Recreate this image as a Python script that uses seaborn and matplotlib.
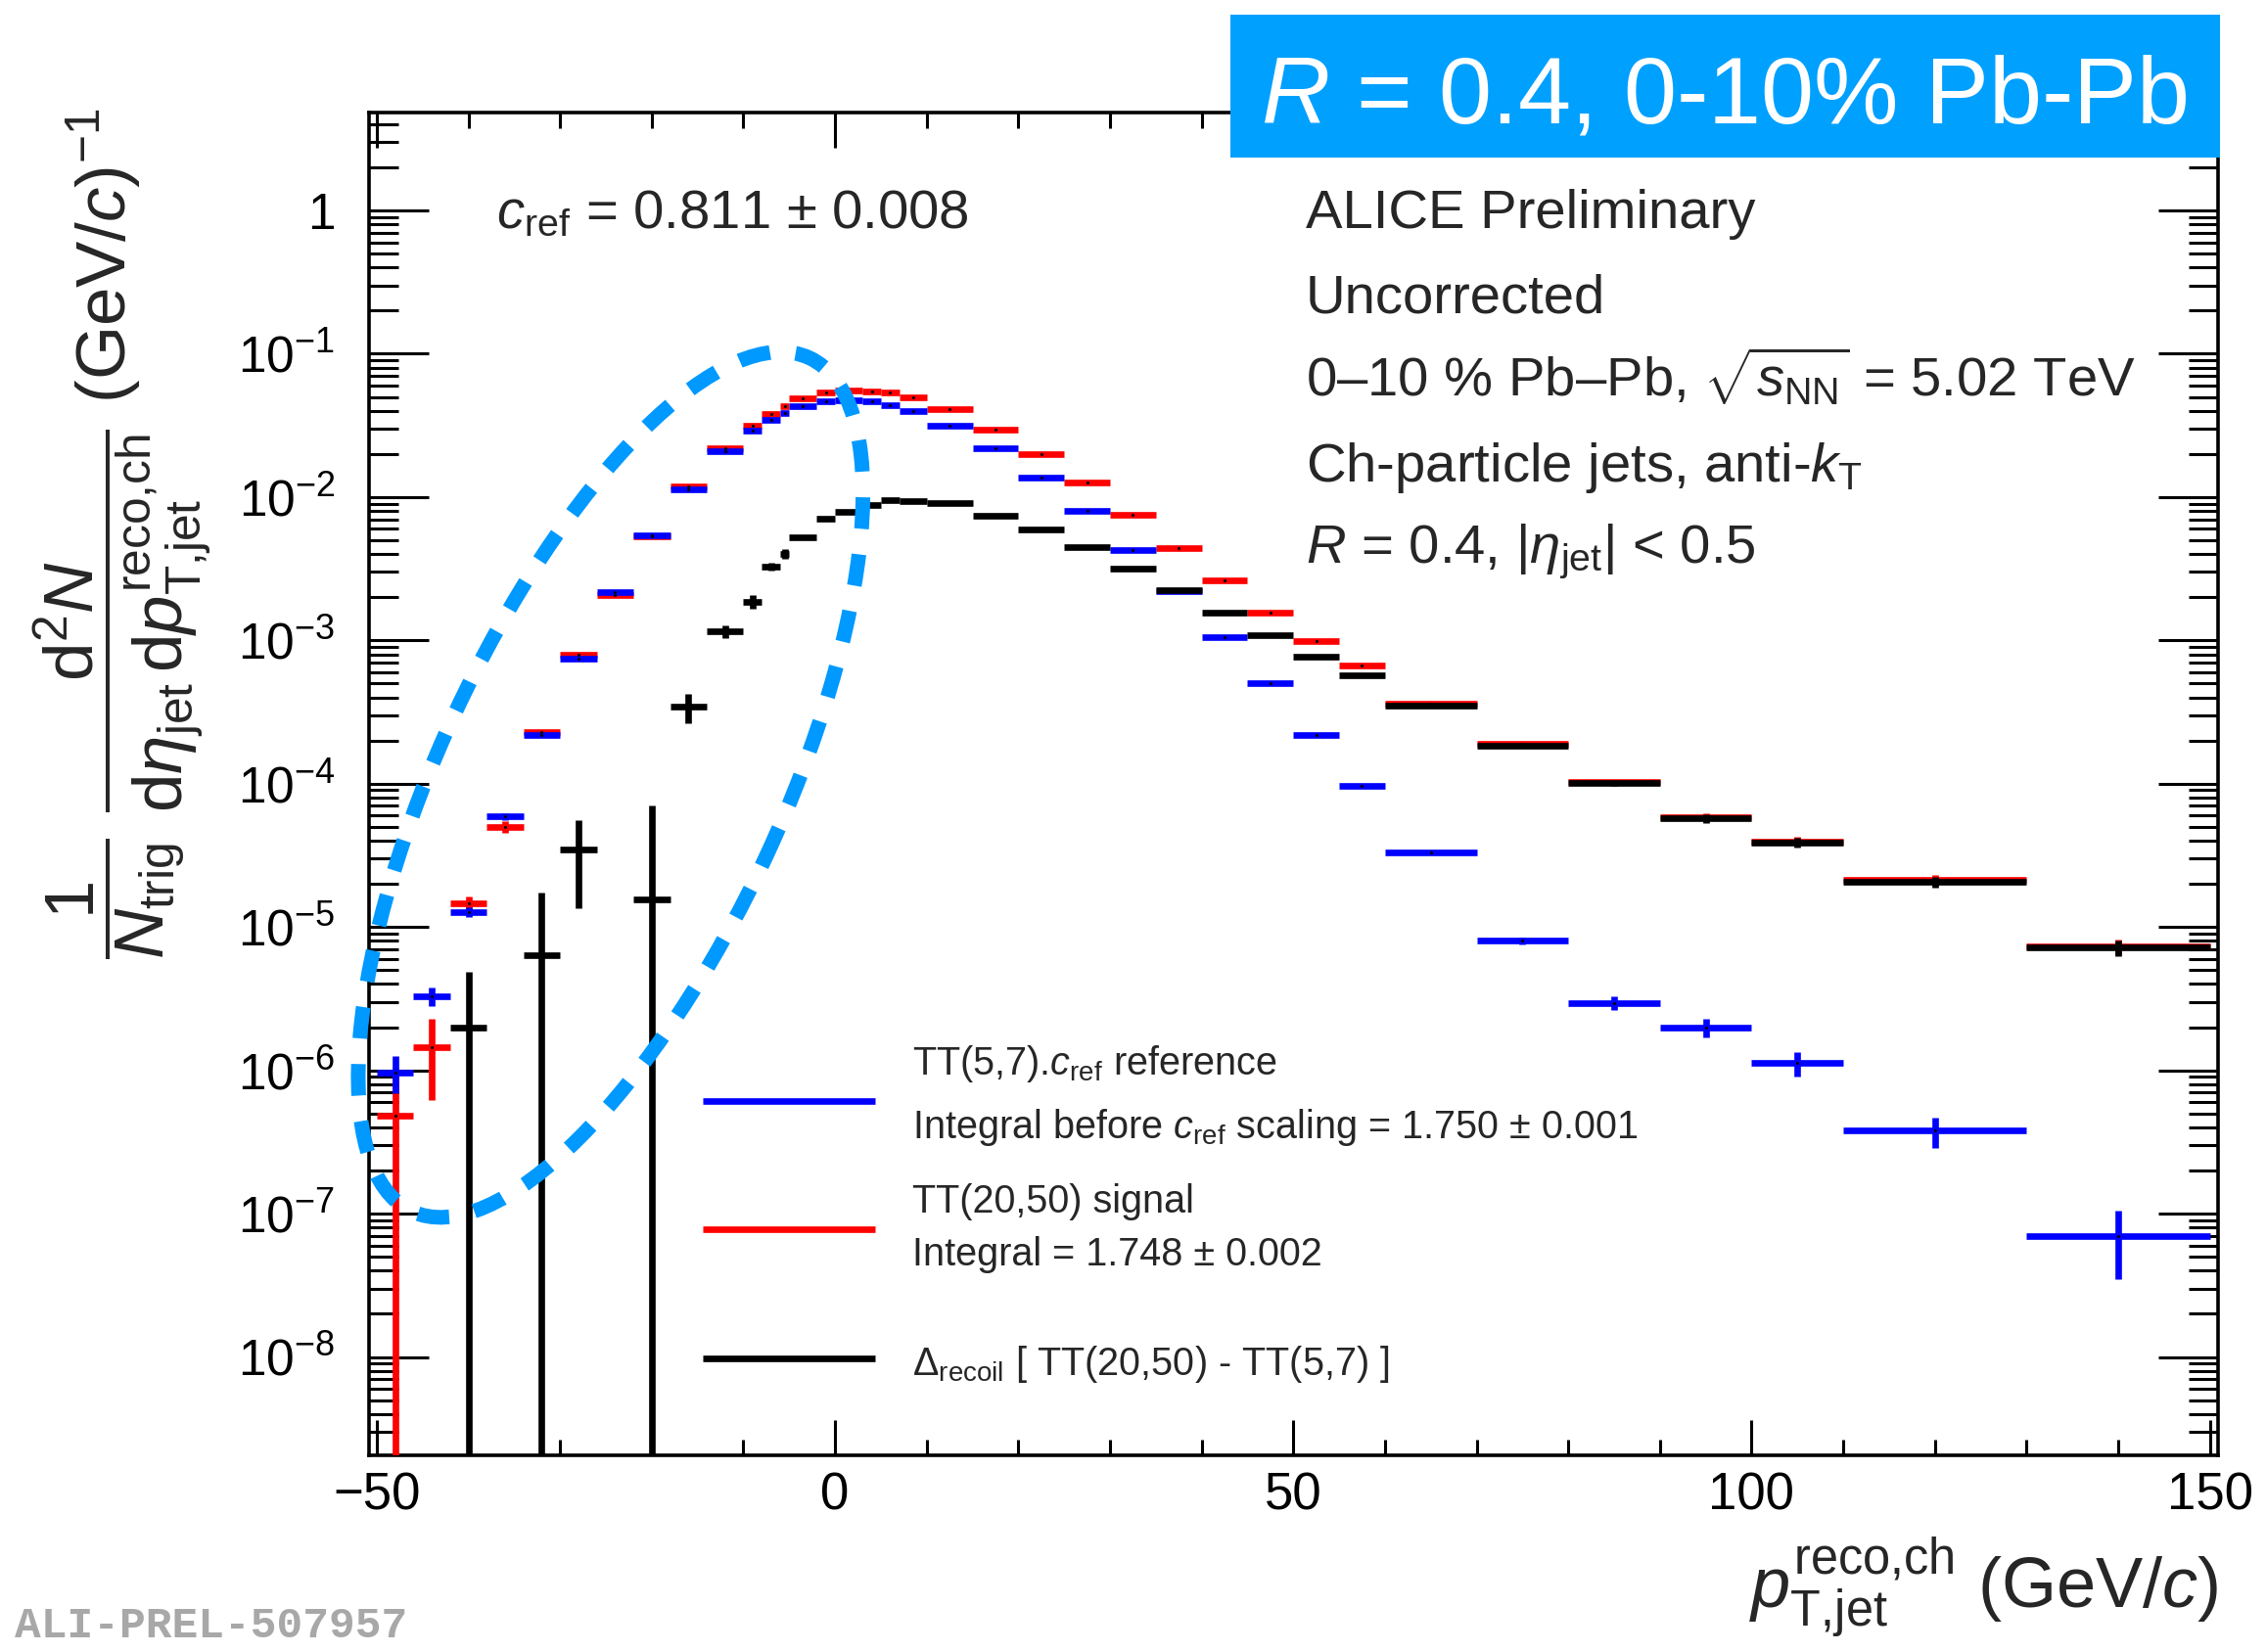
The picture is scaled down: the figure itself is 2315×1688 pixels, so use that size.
import numpy as np
import pandas as pd
import matplotlib
matplotlib.use("Agg")
import matplotlib.pyplot as plt
import seaborn as sns
from matplotlib.patches import Ellipse, Rectangle
from matplotlib.lines import Line2D
from matplotlib.ticker import (FixedLocator, MultipleLocator, FuncFormatter,
                               NullFormatter)

# ---------------- data ----------------
bin_edges = [-50, -46, -42, -38, -34, -30, -26, -22, -18, -14, -10, -8, -6, -5, -2,
             0, 3, 5, 7, 10, 15, 20, 25, 30, 35, 40, 45, 50, 55, 60, 70, 80, 90,
             100, 110, 130, 150]

# TT(5,7) x c_ref reference (blue)
ref_vals = [9.7e-7, 3.3e-6, 1.27e-5, 5.9e-5, 2.2e-4, 7.5e-4, 2.16e-3, 5.4e-3,
            1.13e-2, 2.10e-2, 2.92e-2, 3.47e-2, 3.85e-2, 4.28e-2, 4.68e-2, 4.75e-2,
            4.68e-2, 4.35e-2, 3.99e-2, 3.17e-2, 2.20e-2, 1.37e-2, 7.98e-3, 4.28e-3,
            2.19e-3, 1.06e-3, 5.0e-4, 2.19e-4, 9.7e-5, 3.29e-5, 8.0e-6, 2.95e-6,
            2.0e-6, 1.12e-6, 3.79e-7, 6.99e-8]
ref_errs = [2.8e-7, 5.0e-7, 1.0e-6, 3.0e-6, 6.0e-6, 1.2e-5, 2.5e-5, 5.0e-5,
            8.0e-5, 1.2e-4, 1.6e-4, 2.0e-4, 3.0e-4, 2.0e-4, 2.0e-4, 2.0e-4,
            2.0e-4, 2.0e-4, 2.0e-4, 1.5e-4, 1.2e-4, 9.0e-5, 6.0e-5, 4.0e-5,
            2.5e-5, 1.5e-5, 8.0e-6, 4.0e-6, 2.0e-6, 8.0e-7, 4.5e-7, 3.3e-7,
            3.0e-7, 2.2e-7, 9.0e-8, 3.5e-8]

# TT(20,50) signal (red)
sig_vals = [4.8e-7, 1.46e-6, 1.47e-5, 5.0e-5, 2.28e-4, 7.9e-4, 2.08e-3, 5.3e-3,
            1.18e-2, 2.20e-2, 3.17e-2, 3.81e-2, 4.28e-2, 4.85e-2, 5.36e-2, 5.58e-2,
            5.47e-2, 5.38e-2, 4.93e-2, 4.12e-2, 2.96e-2, 1.98e-2, 1.26e-2, 7.47e-3,
            4.43e-3, 2.63e-3, 1.57e-3, 9.9e-4, 6.73e-4, 3.6e-4, 1.9e-4, 1.03e-4,
            5.85e-5, 3.97e-5, 2.12e-5, 7.3e-6]
sig_errs = [5.5e-7, 8.4e-7, 1.6e-6, 4.5e-6, 8.0e-6, 1.6e-5, 3.0e-5, 6.0e-5,
            1.2e-4, 2.0e-4, 3.0e-4, 4.0e-4, 5.0e-4, 4.0e-4, 5.0e-4, 5.0e-4,
            5.0e-4, 5.0e-4, 5.0e-4, 4.0e-4, 3.0e-4, 2.0e-4, 1.3e-4, 8.0e-5,
            5.0e-5, 3.0e-5, 2.0e-5, 1.3e-5, 1.0e-5, 6.0e-6, 4.0e-6, 3.0e-6,
            4.0e-6, 3.1e-6, 1.8e-6, 9.0e-7]

# Delta_recoil = TT(20,50) - TT(5,7) (black); nan = not drawn
drec_vals = [np.nan, np.nan, 2.0e-6, np.nan, 6.4e-6, 3.46e-5, np.nan, 1.57e-5,
             3.46e-4, 1.15e-3, 1.87e-3, 3.27e-3, 4.0e-3, 5.28e-3, 7.1e-3, 7.9e-3,
             8.77e-3, 9.55e-3, 9.35e-3, 9.05e-3, 7.46e-3, 5.96e-3, 4.51e-3, 3.18e-3,
             2.25e-3, 1.57e-3, 1.08e-3, 7.64e-4, 5.73e-4, 3.48e-4, 1.84e-4, 1.01e-4,
             5.73e-5, 3.89e-5, 2.07e-5, 7.2e-6]
drec_errs = [np.nan, np.nan, 2.9e-6, np.nan, 1.1e-5, 2.1e-5, np.nan, 5.5e-5,
             8.0e-5, 1.15e-4, 2.0e-4, 2.0e-4, 3.2e-4, 1.6e-4, 2.0e-4, 2.0e-4,
             2.0e-4, 2.0e-4, 2.0e-4, 1.8e-4, 1.5e-4, 1.2e-4, 9.0e-5, 7.0e-5,
             5.0e-5, 3.5e-5, 2.5e-5, 1.8e-5, 1.3e-5, 8.0e-6, 5.0e-6, 4.0e-6,
             4.0e-6, 3.1e-6, 1.8e-6, 9.0e-7]

x_major_ticks = [-50, 0, 50, 100, 150]
y_major_exponents = [-8, -7, -6, -5, -4, -3, -2, -1, 0]

legend_lines = [
    (r"TT(5,7).$c_{\rm ref}$ reference",
     r"Integral before $c_{\rm ref}$ scaling = 1.750 ± 0.001"),
    ("TT(20,50) signal", "Integral = 1.748 ± 0.002"),
    (r"$\Delta_{\rm recoil}$ [ TT(20,50) - TT(5,7) ]",),
]
info_lines = ["ALICE Preliminary", "Uncorrected",
              r"0–10 % Pb–Pb, $\sqrt{s_{\rm NN}}$ = 5.02 TeV",
              r"Ch-particle jets, anti-$k_{\rm T}$",
              r"$R$ = 0.4, |$\eta_{\rm jet}$| < 0.5"]

# ---------------- style ----------------
sns.set_theme(style="ticks")
plt.rcParams["font.family"] = ["Liberation Sans", "DejaVu Sans"]
plt.rcParams["mathtext.fontset"] = "custom"
plt.rcParams["mathtext.rm"] = "Liberation Sans"
plt.rcParams["mathtext.it"] = "Liberation Sans:italic"
plt.rcParams["mathtext.bf"] = "Liberation Sans:bold"
plt.rcParams["axes.unicode_minus"] = True

W, H = 2315, 1688
fig = plt.figure(figsize=(W / 100, H / 100), dpi=100)
fig.patch.set_facecolor("white")
ax_l, ax_r, ax_t, ax_b = 377, 2266, 115, 1487
ax = fig.add_axes([ax_l / W, 1 - ax_b / H, (ax_r - ax_l) / W, (ax_b - ax_t) / H])
ax.set_facecolor("white")

edges = np.array(bin_edges, dtype=float)
centers = 0.5 * (edges[:-1] + edges[1:])
halfw = 0.5 * np.diff(edges)

series = [
    ("sig", sig_vals, sig_errs, "#ff0000", 3),
    ("ref", ref_vals, ref_errs, "#0000ff", 4),
    ("drec", drec_vals, drec_errs, "#000000", 5),
]
rows = []
for name, vals, errs, col, z in series:
    v = np.array(vals, dtype=float)
    e = np.array(errs, dtype=float)
    m = ~np.isnan(v)
    ax.errorbar(centers[m], v[m], xerr=halfw[m], yerr=e[m], fmt="none",
                ecolor=col, elinewidth=4.8, capsize=0, zorder=z)
    for c, val in zip(centers[m], v[m]):
        rows.append({"pt": c, "val": val, "series": name})

df = pd.DataFrame(rows)
sns.scatterplot(data=df, x="pt", y="val", color="black", s=5, marker="o",
                linewidth=0, ax=ax, legend=False, zorder=6)

ymin, ymax = 2.06e-9, 4.82
ax.set_yscale("log")
ax.set_xlim(-50.85, 150.9)
ax.set_ylim(ymin, ymax)
ax.set_xlabel("")
ax.set_ylabel("")

ax.xaxis.set_major_locator(FixedLocator(x_major_ticks))
ax.xaxis.set_minor_locator(MultipleLocator(10))
ax.yaxis.set_major_locator(FixedLocator([10.0 ** k for k in y_major_exponents]))
minor_y = [s * 10.0 ** k for k in range(-9, 1) for s in range(2, 10)
           if ymin <= s * 10.0 ** k <= ymax]
ax.yaxis.set_minor_locator(FixedLocator(minor_y))
ax.yaxis.set_minor_formatter(NullFormatter())


def yfmt(v, pos):
    e = int(round(np.log10(v)))
    return "1" if e == 0 else r"$10^{%d}$" % e


ax.yaxis.set_major_formatter(FuncFormatter(yfmt))
ax.tick_params(axis="both", which="both", direction="in", top=True, right=True,
               color="black", width=2.2, labelcolor="black")
ax.tick_params(axis="x", which="major", length=26, pad=12, labelsize=38)
ax.tick_params(axis="x", which="minor", length=11.5)
ax.tick_params(axis="y", which="major", length=44, pad=25, labelsize=37)
ax.tick_params(axis="y", which="minor", length=21.5)
for s in ax.spines.values():
    s.set_linewidth(2.6)
    s.set_color("black")
ax.grid(False)

# ---------------- axis titles ----------------
fig.text(125 / W, 1 - 111 / H,
         r"$\dfrac{1}{N_{\rm trig}}\ \dfrac{{\rm d}^{2}N}{{\rm d}\eta_{\rm jet}\,"
         r"{\rm d}p_{\text{T,jet}}^{\text{reco,ch}}}$ (GeV/$c$)$^{-1}$",
         rotation=90, ha="center", va="top", fontsize=51)
fig.text(ax_r / W, 1 - 1643 / H, r"$p_{\text{T,jet}}^{\text{reco,ch}}$ (GeV/$c$)",
         ha="right", va="baseline", fontsize=52)

# ---------------- annotations ----------------
fig.text(507 / W, 1 - 233 / H, r"$c_{\rm ref}$ = 0.811 ± 0.008",
         ha="left", va="baseline", fontsize=40.5)
info_base = [232.7, 319, 405.7, 491.7, 575]
for t, yb in zip(info_lines, info_base):
    fig.text(1333.7 / W, 1 - yb / H, t, ha="left", va="baseline", fontsize=40.5)

# legend (drawn by hand to match ROOT layout)
leg_line_y = [1125.3, 1256.3, 1388.3]
leg_text_y = [(1098.3, 1162.7), (1239, 1293), (1405,)]
leg_cols = ["#0000ff", "#ff0000", "#000000"]
for col, ly, texts, ty in zip(leg_cols, leg_line_y, legend_lines, leg_text_y):
    fig.add_artist(Line2D([718 / W, 894 / W], [1 - ly / H, 1 - ly / H],
                          transform=fig.transFigure, color=col, lw=4.8,
                          solid_capstyle="butt"))
    for t, y in zip(texts, ty):
        fig.text(932.5 / W, 1 - y / H, t, ha="left", va="baseline", fontsize=28.5)

# highlighted box at top right
fig.add_artist(Rectangle((1257 / W, 1 - 161 / H), (2268 - 1257) / W, 146 / H,
                         transform=fig.transFigure, facecolor="#00a0ff",
                         edgecolor="none", zorder=10))
fig.text(1761.5 / W, 1 - 125 / H, r"$R$ = 0.4, 0-10% Pb-Pb", color="white",
         ha="center", va="baseline", fontsize=70, zorder=11)

# dashed ellipse around the low-pT region
fig.add_artist(Ellipse((623.8 / 100, (H - 801.7) / 100), 9.62, 3.50, angle=65,
                       transform=fig.dpi_scale_trans, fill=False,
                       edgecolor="#0099ff", lw=10.8,
                       linestyle=(0, (2.15, 1.75)), capstyle="butt", zorder=12))

# preliminary figure ID (kept fully inside the canvas)
fig.text(15 / W, 6 / H, "ALI-PREL-507957", family="Liberation Mono",
         weight="bold", color="#a8a8a8", fontsize=32, ha="left", va="bottom")

fig.savefig("out.png", dpi=100, facecolor="white")
